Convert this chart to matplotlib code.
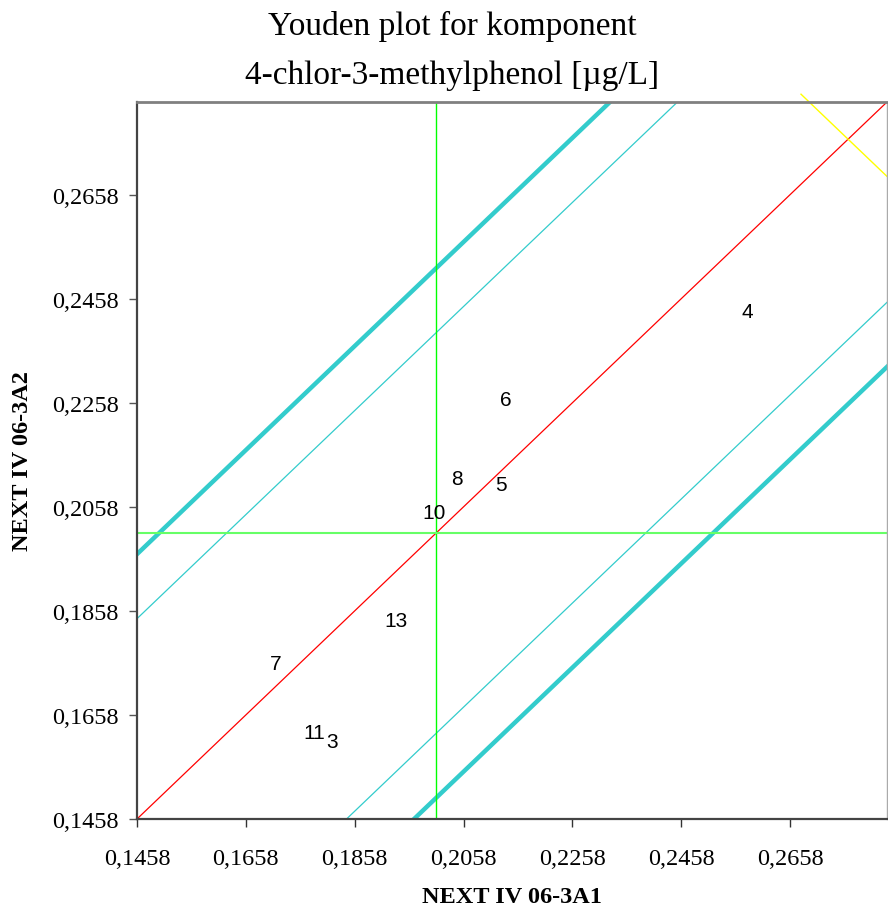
import matplotlib
matplotlib.use('Agg')
import matplotlib.pyplot as plt
import numpy as np

# lab results (sample A1, sample A2)
labs = ['4', '6', '8', '5', '10', '13', '7', '11', '3']
a1 = [0.2579, 0.2135, 0.2045, 0.2126, 0.2004, 0.1934, 0.1713, 0.1783, 0.1816]
a2 = [0.2434, 0.2265, 0.2112, 0.2100, 0.2047, 0.1840, 0.1757, 0.1625, 0.1606]

center = 0.2008
inner = 0.0385
outer = 0.0509
ticks = [0.1458, 0.1658, 0.1858, 0.2058, 0.2258, 0.2458, 0.2658]
lo, hi = 0.1458, 0.2836

fig = plt.figure(figsize=(8.88, 9.12), dpi=100)
ax = fig.add_axes([137 / 888, 1 - 820 / 912, 750 / 888, 717 / 912])

fig.text(452 / 888, 1 - 26 / 912, 'Youden plot for komponent', ha='center', va='center',
         family='Liberation Serif', fontsize=24)
fig.text(452 / 888, 1 - 76 / 912, '4-chlor-3-methylphenol [µg/L]', ha='center', va='center',
         family='Liberation Serif', fontsize=24)

xs = np.array([lo, hi])
ax.plot(xs, xs, color='#ff0000', lw=0.9)
for d in (inner, -inner):
    ax.plot(xs, xs + d, color='#33cccc', lw=0.9)
for d in (outer, -outer):
    ax.plot(xs, xs + d, color='#33cccc', lw=3.2)
ax.axvline(center, color='#00ff00', lw=1.0)
ax.axhline(center, color='#66ff66', lw=1.5)

# perpendicular line x + y = const
yx = np.array([0.2678, hi])
ax.plot(yx, 0.5529 - yx, color='#ffff00', lw=1.0, clip_on=False)

for lab, x, y in zip(labs, a1, a2):
    ax.text(x, y, lab, ha='center', va='center', family='Liberation Sans', fontsize=15)

ax.set_xlim(lo, hi)
ax.set_ylim(lo, hi)
ax.set_xticks(ticks)
ax.set_yticks(ticks)
ax.set_xticklabels([('%.4f' % t).replace('.', ',') for t in ticks], family='Liberation Serif', fontsize=17.5)
ax.set_yticklabels([('%.4f' % t).replace('.', ',') for t in ticks], family='Liberation Serif', fontsize=17.5)
ax.tick_params(axis='x', direction='out', length=6, width=1, color='#333333', pad=15)
ax.tick_params(axis='y', direction='out', length=6, width=1, color='#555555', pad=7)

ax.set_xlabel('NEXT IV 06-3A1', family='Liberation Serif', fontweight='bold', fontsize=17.5, labelpad=12)
ax.set_ylabel('NEXT IV 06-3A2', family='Liberation Serif', fontweight='bold', fontsize=17.5, labelpad=14)

ax.spines['left'].set_color('#444444')
ax.spines['left'].set_linewidth(1.6)
ax.spines['bottom'].set_color('#444444')
ax.spines['bottom'].set_linewidth(1.6)
ax.spines['top'].set_color('#808080')
ax.spines['top'].set_linewidth(2)
ax.spines['right'].set_color('#aaaaaa')
ax.spines['right'].set_linewidth(1)

fig.savefig('out.png', dpi=100)
